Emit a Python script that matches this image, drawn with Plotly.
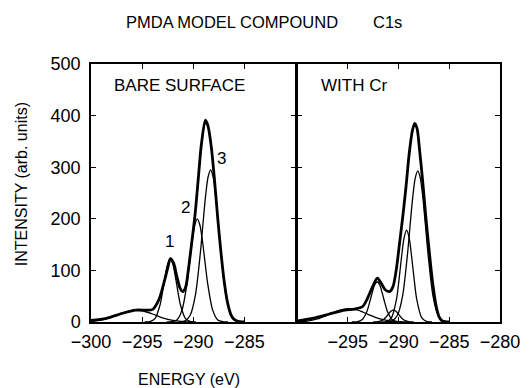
import plotly.graph_objects as go
from plotly.subplots import make_subplots

# ---------------- data ----------------
# Left panel: BARE SURFACE
L_TOTAL_X = [-300, -298.5, -296.9, -295.6, -294.65, -294.0, -293.37, -292.88, -292.47, -292.24,
             -291.92, -291.6, -291.28, -291.03, -290.74, -290.48, -290.16, -289.84, -289.52, -289.2,
             -288.81, -288.56, -288.24, -287.92, -287.6, -287.28, -286.95, -286.63, -286.31, -286.0,
             -285.7, -285.0]
L_TOTAL_Y = [3, 7, 17, 23, 23, 24, 43, 75, 107, 123,
             114, 88, 65, 59, 68, 101, 152, 205, 275, 345,
             391, 380, 340, 275, 200, 133, 75, 36, 14, 5,
             2, 0]

L_BROAD_X = [-300, -299, -298, -297, -296, -295.6, -295, -294, -293, -292, -291, -290]
L_BROAD_Y = [1.2, 3.9, 9.5, 17, 22.4, 23, 21.8, 15.5, 8.1, 3.1, 0.9, 0]

L_C1_X = [-294.75, -294.25, -293.75, -293.25, -293.0, -292.75, -292.5, -292.25, -292.0, -291.75,
          -291.5, -291.25, -290.75, -290.25, -289.75]
L_C1_Y = [0, 0.7, 6.5, 33, 58.7, 88, 112.5, 122, 112.5, 88, 58.7, 33, 6.5, 0.7, 0]

L_C2_X = [-292.6, -292.1, -291.6, -291.1, -290.6, -290.35, -290.1, -289.85, -289.6, -289.35,
          -289.1, -288.85, -288.6, -288.1, -287.6, -287.1, -286.6]
L_C2_Y = [0, 0.5, 4, 23, 76, 116, 157, 188, 200, 188, 157, 116, 76, 23, 4, 0.5, 0]

L_C3_X = [-291.3, -290.8, -290.3, -289.8, -289.3, -289.05, -288.8, -288.55, -288.3, -288.05,
          -287.8, -287.55, -287.3, -286.8, -286.3, -285.8, -285.3]
L_C3_Y = [0, 2.2, 13, 51, 135, 190, 243, 281, 295, 281, 243, 190, 135, 51, 13, 2.2, 0]

# Right panel: WITH Cr
R_TOTAL_X = [-300, -298.5, -296.89, -295.29, -294.33, -293.53, -293.05, -292.56, -292.08, -291.7,
             -291.28, -290.87, -290.55, -290.22, -289.9, -289.58, -289.26, -288.94, -288.62, -288.4,
             -288.17, -287.92, -287.6, -287.28, -286.95, -286.63, -286.31, -286.0, -285.7, -285.0]
R_TOTAL_Y = [2, 7, 15, 23, 25, 30, 46, 68, 85, 75,
             62, 59, 68, 101, 152, 204, 262, 327, 372, 385,
             375, 333, 269, 198, 133, 75, 33, 10, 2, 0]

R_BROAD_X = [-300, -299, -298, -297, -296, -295, -294, -293, -292, -291, -290, -289]
R_BROAD_Y = [0.5, 1.9, 5.9, 13.2, 21.6, 26, 22.9, 14.9, 7.1, 2.5, 0.6, 0]

R_C1_X = [-294.6, -294.1, -293.6, -293.1, -292.85, -292.6, -292.35, -292.1, -291.85, -291.6,
          -291.35, -291.1, -290.6, -290.1, -289.6]
R_C1_Y = [0, 0.4, 4.2, 21, 37.5, 56, 72, 78, 72, 56, 37.5, 21, 4.2, 0.4, 0]

R_C4_X = [-292.5, -292.0, -291.5, -291.25, -291.0, -290.75, -290.5, -290.25, -290.0, -289.75,
          -289.5, -289.0, -288.5]
R_C4_Y = [0, 0.6, 4.4, 9.1, 15.2, 20.7, 23, 20.7, 15.2, 9.1, 4.4, 0.6, 0]

R_C2_X = [-291.7, -291.2, -290.7, -290.2, -289.95, -289.7, -289.45, -289.2, -288.95, -288.7,
          -288.45, -288.2, -287.7, -287.2, -286.7]
R_C2_Y = [0, 0.7, 7.8, 44, 81.5, 126, 163, 178, 163, 126, 81.5, 44, 7.8, 0.7, 0]

R_C3_X = [-291.1, -290.6, -290.1, -289.6, -289.1, -288.85, -288.6, -288.35, -288.1, -287.85,
          -287.6, -287.35, -287.1, -286.6, -286.1, -285.6, -285.1]
R_C3_Y = [0, 2.2, 13, 50, 134, 189, 241, 279, 293, 279, 241, 189, 134, 50, 13, 2.2, 0]

LEFT_XTICKS = [-300, -295, -290, -285]
RIGHT_XTICKS = [-295, -290, -285, -280]
YTICKS = [0, 100, 200, 300, 400, 500]
PEAK_LABELS = ["1", "2", "3"]
PEAK_LABEL_X = [-292.34, -290.74, -287.2]
PEAK_LABEL_Y = [156, 222, 317]

# ---------------- figure ----------------
FONT = "Liberation Sans, Arial, Helvetica, sans-serif"
fig = make_subplots(rows=1, cols=2, shared_yaxes=True, horizontal_spacing=0)

def add(x, y, col, width):
    fig.add_trace(go.Scatter(x=x, y=y, mode="lines",
                             line=dict(color="black", width=width, shape="spline", smoothing=0.8),
                             showlegend=False, hoverinfo="skip"), row=1, col=col)

for x, y in [(L_BROAD_X, L_BROAD_Y), (L_C1_X, L_C1_Y), (L_C2_X, L_C2_Y), (L_C3_X, L_C3_Y)]:
    add(x, y, 1, 1.3)
add(L_TOTAL_X, L_TOTAL_Y, 1, 2.8)

for x, y in [(R_BROAD_X, R_BROAD_Y), (R_C1_X, R_C1_Y), (R_C4_X, R_C4_Y), (R_C2_X, R_C2_Y), (R_C3_X, R_C3_Y)]:
    add(x, y, 2, 1.3)
add(R_TOTAL_X, R_TOTAL_Y, 2, 2.8)

LW = 1.5
axis_common = dict(showline=True, linecolor="black", linewidth=LW, mirror="ticks",
                   ticks="inside", ticklen=5, tickwidth=1.2, tickcolor="black",
                   showgrid=False, zeroline=False,
                   tickfont=dict(family=FONT, size=18, color="black"))

# plot area in page pixels: x 91..507, y 64..322 (page has an 8 px body margin)
PL, PT, PW, PH = 91, 64, 416, 258

fig.update_xaxes(range=[-300, -280], tickvals=LEFT_XTICKS, ticklabelstandoff=3,
                 domain=[0, 0.5], **axis_common, row=1, col=1)
# shift the right panel by one line width so its left line overlaps the left panel's mirror line
fig.update_xaxes(range=[-300, -280], tickvals=RIGHT_XTICKS, ticklabelstandoff=3,
                 domain=[0.5 + LW / PW, 1], **axis_common, row=1, col=2)
fig.update_yaxes(range=[0, 500], tickvals=YTICKS, ticklabelstandoff=5,
                 **axis_common, row=1, col=1)
fig.update_yaxes(range=[0, 500], tickvals=YTICKS, showticklabels=False,
                 **axis_common, row=1, col=2)

ann = []
txt = dict(family=FONT, size=16.5, color="black")
ann.append(dict(text="PMDA MODEL COMPOUND", xref="paper", yref="paper",
                x=(234.5 - PL) / PW, y=1 + (PT - 22) / PH, xanchor="center", yanchor="middle",
                showarrow=False, font=txt))
ann.append(dict(text="C1s", xref="paper", yref="paper",
                x=(392.5 - PL) / PW, y=1 + (PT - 22) / PH, xanchor="center", yanchor="middle",
                showarrow=False, font=txt))
ann.append(dict(text="BARE SURFACE", xref="x domain", yref="y domain",
                x=(112 - 91) / 208, y=(322 - 85) / PH, xanchor="left", yanchor="middle",
                showarrow=False, font=dict(family=FONT, size=17, color="black")))
ann.append(dict(text="WITH Cr", xref="x2 domain", yref="y2 domain",
                x=(322 - 299) / 208, y=(322 - 85) / PH, xanchor="left", yanchor="middle",
                showarrow=False, font=dict(family=FONT, size=17, color="black")))
for t, px, py in zip(PEAK_LABELS, PEAK_LABEL_X, PEAK_LABEL_Y):
    ann.append(dict(text=t, xref="x", yref="y", x=px, y=py, xanchor="center", yanchor="middle",
                    showarrow=False, font=dict(family=FONT, size=17, color="black")))
ann.append(dict(text="INTENSITY (arb. units)", xref="paper", yref="paper",
                x=(20 - PL) / PW, y=(322 - 184) / PH, xanchor="center", yanchor="middle",
                textangle=-90, showarrow=False, font=dict(family=FONT, size=16, color="black")))
ann.append(dict(text="ENERGY (eV)", xref="paper", yref="paper",
                x=(191 - PL) / PW, y=(322 - 379) / PH, xanchor="center", yanchor="middle",
                showarrow=False, font=dict(family=FONT, size=16, color="black")))

# figure is offset by the page's 8 px margin, so shrink it by 8 px on the left/top
fig.update_layout(width=524, height=380, margin=dict(l=83, r=25, t=56, b=66, pad=0),
                  paper_bgcolor="white", plot_bgcolor="white", annotations=ann,
                  font=dict(family=FONT, color="black"))

fig.write_html("out.html")
